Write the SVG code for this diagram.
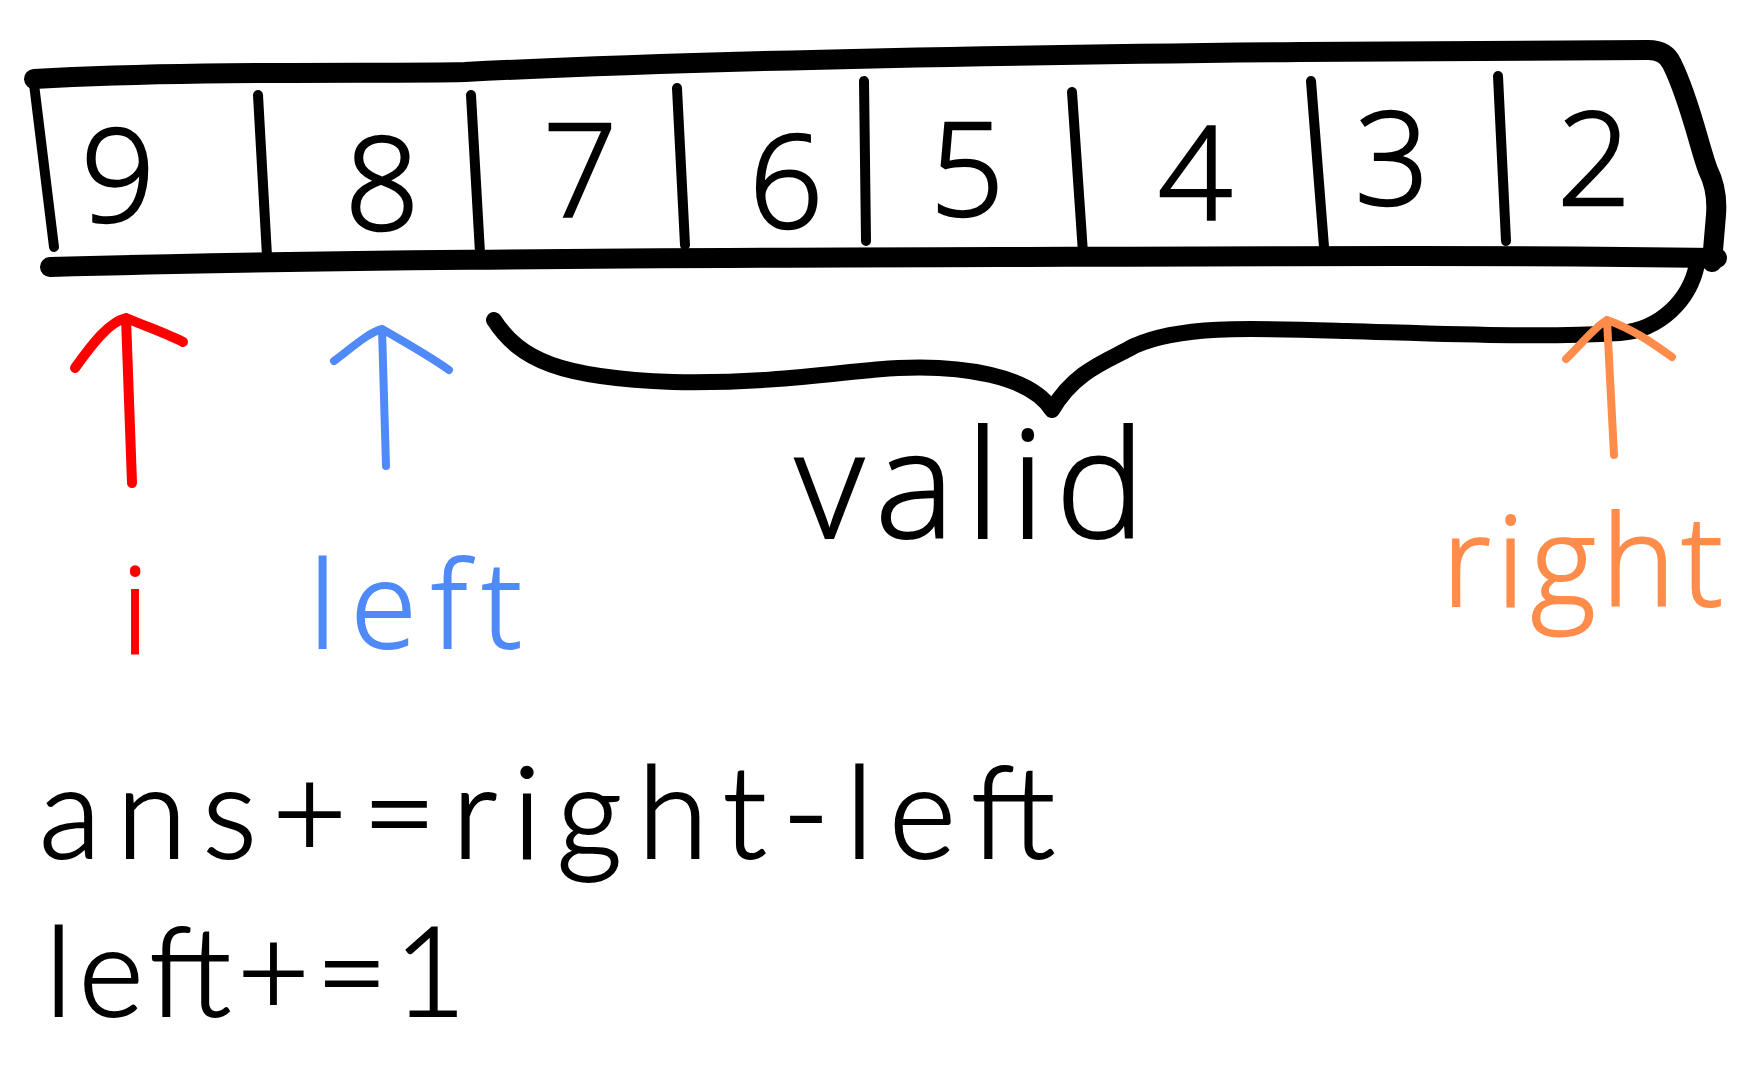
<svg xmlns="http://www.w3.org/2000/svg" width="1760" height="1069" viewBox="0 0 1760 1069">
<defs>
<style>
.ink{fill:none;stroke:#000;stroke-linecap:round;stroke-linejoin:round}
.edge{stroke-width:20px}
.cellline{stroke-width:10px}
.bracestroke{stroke-width:16px}
.digit{font-family:"Open Sans","Liberation Sans","DejaVu Sans",sans-serif;font-weight:300;font-size:130px;fill:#000;stroke:#000;stroke-width:2.5px;text-anchor:middle}
.hand{font-family:"Open Sans","Liberation Sans","DejaVu Sans",sans-serif;font-weight:300;stroke-width:2px}
.formula{font-family:Lato,"Liberation Sans","DejaVu Sans",sans-serif;font-weight:300;stroke-width:2px;fill:#000;stroke:#000}
.arrow{fill:none;stroke-linecap:round;stroke-linejoin:round}
</style>
</defs>
<rect width="1760" height="1069" fill="#fff"/>
<g id="array">
<path class="ink edge" d="M34,79 C200,70 380,74 465,72 C700,60 1000,55 1300,52 L1648,50 Q1666,50 1672,64 C1690,100 1700,150 1708,170 Q1718,190 1716,215 L1712,262"/>
<path class="ink edge" d="M50,267 C300,260 600,258 1000,257 C1300,256 1500,255 1717,258"/>
<path class="ink cellline" d="M34,84 L54,247"/>
<path class="ink cellline" d="M258,95 L267,256"/>
<path class="ink cellline" d="M471,95 L480,253"/>
<path class="ink cellline" d="M677,88 L685,245"/>
<path class="ink cellline" d="M864,81 L866,241"/>
<path class="ink cellline" d="M1072,92 L1083,253"/>
<path class="ink cellline" d="M1311,81 L1324,247"/>
<path class="ink cellline" d="M1498,76 L1506,241"/>
</g>
<g id="cells">
<text class="digit" x="118" y="222">9</text>
<text class="digit" x="382" y="230">8</text>
<text class="digit" x="580" y="216">7</text>
<text class="digit" x="786" y="228">6</text>
<text class="digit" x="967" y="216">5</text>
<text class="digit" x="1195" y="220">4</text>
<text class="digit" x="1392" y="205">3</text>
<text class="digit" x="1594" y="205">2</text>
</g>
<g id="brace">
<path class="ink bracestroke" d="M494,320 C520,360 560,378 673,382 C780,384 850,370 898,368 C960,365 1030,375 1052,410 C1075,370 1110,360 1134,346 C1180,325 1250,328 1347,331 C1450,334 1540,338 1620,333 C1660,330 1690,300 1697,264"/>
</g>
<g id="connectors">
<path class="arrow" stroke="#ff0000" stroke-width="10" d="M132,483 L126,318 M75,368 C95,340 110,322 126,318 C150,328 170,335 183,342"/>
<path class="arrow" stroke="#5089f8" stroke-width="8" d="M386,466 L382,329 M334,361 C355,345 370,332 382,329 C410,345 435,360 449,370"/>
<path class="arrow" stroke="#ff8c4a" stroke-width="8" d="M1614,455 L1607,320 M1566,359 C1585,340 1597,325 1607,320 C1635,330 1655,345 1672,357"/>
</g>
<g id="label-i"><text class="hand" x="135" y="654" font-size="120" fill="#ff0000" stroke="#ff0000" text-anchor="middle">i</text></g>
<g id="label-left"><text class="hand" x="309" y="648" font-size="120" fill="#5089f8" stroke="#5089f8" textLength="213" lengthAdjust="spacing">left</text></g>
<g id="label-valid"><text class="hand" x="795" y="538" font-size="150" fill="#000" stroke="#000" textLength="350" lengthAdjust="spacing">valid</text></g>
<g id="label-right"><text class="hand" x="1442" y="606" font-size="125" fill="#ff8c4a" stroke="#ff8c4a" textLength="281" lengthAdjust="spacing">right</text></g>
<g id="formula">
<text class="formula" x="39" y="858" font-size="128" textLength="1016" lengthAdjust="spacing">ans+=right-left</text>
<text class="formula" x="45" y="1016" font-size="124" textLength="421" lengthAdjust="spacing">left+=1</text>
</g>
</svg>
